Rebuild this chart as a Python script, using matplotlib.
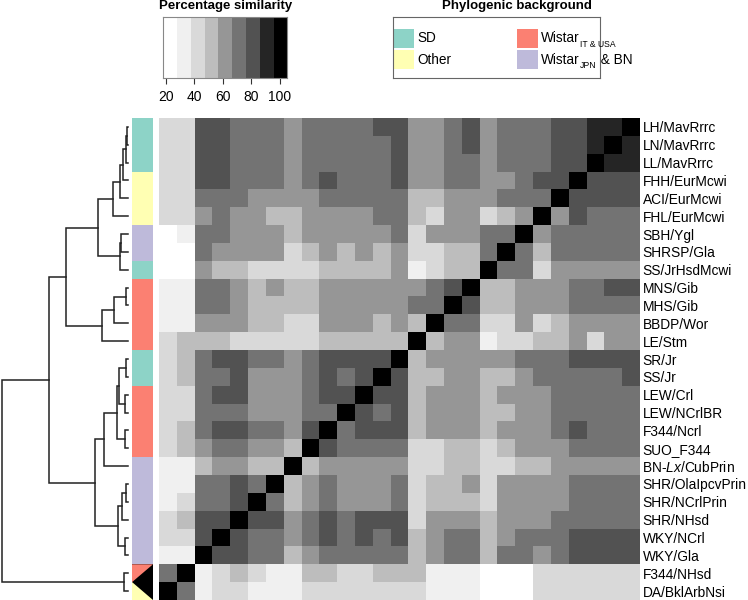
import numpy as np
import matplotlib
matplotlib.use("Agg")
import matplotlib.pyplot as plt
from matplotlib.colors import ListedColormap, BoundaryNorm
from matplotlib.patches import Rectangle, Polygon

plt.rcParams['font.family'] = ['Liberation Sans', 'DejaVu Sans']
plt.rcParams['mathtext.fontset'] = 'custom'
plt.rcParams['mathtext.rm'] = 'Liberation Sans'
plt.rcParams['mathtext.it'] = 'Liberation Sans:italic'
plt.rcParams['mathtext.bf'] = 'Liberation Sans:bold'

# strains, top to bottom (columns of the matrix run in the reverse order)
strains = ['LH/MavRrrc', 'LN/MavRrrc', 'LL/MavRrrc', 'FHH/EurMcwi', 'ACI/EurMcwi',
           'FHL/EurMcwi', 'SBH/Ygl', 'SHRSP/Gla', 'SS/JrHsdMcwi', 'MNS/Gib',
           'MHS/Gib', 'BBDP/Wor', 'LE/Stm', 'SR/Jr', 'SS/Jr', 'LEW/Crl',
           'LEW/NCrlBR', 'F344/Ncrl', 'SUO_F344', r'BN-$\mathit{Lx}$/CubPrin',
           'SHR/OlaIpcvPrin', 'SHR/NCrlPrin', 'SHR/NHsd', 'WKY/NCrl', 'WKY/Gla',
           'F344/NHsd', 'DA/BklArbNsi']

# phylogenic background of each row ("+black" = half of the cell is black)
background = ['SD', 'SD', 'SD', 'Other', 'Other', 'Other', 'WistarJPN', 'WistarJPN',
              'SD', 'WistarIT', 'WistarIT', 'WistarIT', 'WistarIT', 'SD', 'SD',
              'WistarIT', 'WistarIT', 'WistarIT', 'WistarIT', 'WistarJPN',
              'WistarJPN', 'WistarJPN', 'WistarJPN', 'WistarJPN', 'WistarJPN',
              'WistarIT+black', 'Other+black']

bg_colors = {'SD': '#8DD3C7', 'Other': '#FFFFB3', 'WistarIT': '#FB8072',
             'WistarJPN': '#BEBADA'}

# percentage similarity (row strain vs column strain, columns = reversed rows)
similarity = [
    [42, 42, 81, 81, 71, 71, 71, 61, 71, 71, 71, 71, 81, 81, 61, 61, 71, 81, 61, 71, 71, 71, 81, 81, 90, 90, 100],
    [42, 42, 81, 81, 71, 71, 71, 61, 71, 71, 71, 71, 71, 81, 61, 61, 71, 81, 61, 71, 71, 71, 81, 81, 90, 100, 90],
    [42, 42, 81, 81, 71, 71, 71, 61, 71, 71, 71, 71, 71, 81, 61, 61, 71, 71, 61, 71, 71, 71, 81, 81, 100, 90, 90],
    [42, 42, 81, 81, 71, 71, 71, 61, 71, 81, 71, 71, 71, 81, 61, 61, 71, 71, 61, 61, 71, 81, 81, 100, 81, 81, 81],
    [42, 42, 71, 71, 71, 61, 61, 61, 61, 71, 71, 71, 71, 71, 52, 52, 61, 61, 61, 71, 71, 71, 100, 81, 81, 81, 81],
    [42, 42, 61, 71, 61, 61, 52, 52, 61, 61, 61, 61, 71, 71, 52, 42, 61, 61, 42, 52, 61, 100, 61, 81, 71, 71, 71],
    [23, 33, 71, 71, 61, 61, 61, 52, 61, 61, 61, 61, 61, 71, 42, 61, 61, 61, 71, 71, 100, 61, 71, 71, 71, 71, 71],
    [23, 23, 71, 61, 61, 61, 61, 42, 52, 61, 52, 61, 52, 61, 42, 42, 52, 52, 71, 100, 71, 52, 71, 71, 71, 71, 71],
    [23, 23, 61, 52, 52, 42, 42, 42, 42, 52, 52, 52, 52, 61, 33, 42, 52, 52, 100, 71, 71, 42, 61, 61, 61, 61, 61],
    [33, 33, 71, 71, 61, 52, 61, 52, 52, 61, 61, 61, 61, 61, 61, 71, 81, 100, 52, 52, 61, 61, 61, 71, 71, 81, 81],
    [33, 33, 71, 71, 61, 52, 52, 52, 52, 61, 61, 61, 61, 61, 71, 71, 100, 81, 52, 52, 61, 61, 61, 71, 71, 71, 71],
    [33, 33, 61, 61, 61, 52, 52, 42, 42, 61, 61, 61, 52, 61, 52, 100, 71, 71, 42, 42, 61, 42, 52, 61, 61, 61, 61],
    [42, 52, 52, 52, 42, 42, 42, 42, 42, 52, 52, 52, 52, 52, 100, 52, 61, 61, 33, 42, 42, 52, 52, 61, 42, 61, 61],
    [42, 52, 71, 81, 81, 71, 71, 61, 71, 81, 81, 81, 81, 100, 52, 61, 61, 61, 61, 61, 71, 71, 71, 81, 81, 81, 81],
    [42, 52, 71, 71, 81, 61, 61, 61, 71, 81, 71, 81, 100, 81, 52, 52, 61, 61, 52, 52, 61, 71, 71, 71, 71, 71, 81],
    [42, 42, 71, 81, 81, 61, 61, 61, 71, 81, 81, 100, 81, 81, 52, 61, 61, 61, 52, 61, 61, 61, 71, 71, 71, 71, 71],
    [42, 42, 71, 71, 71, 61, 61, 61, 71, 71, 100, 81, 71, 81, 52, 61, 61, 61, 52, 52, 61, 61, 71, 71, 71, 71, 71],
    [42, 52, 71, 81, 81, 71, 71, 61, 81, 100, 71, 81, 81, 81, 52, 61, 61, 61, 52, 61, 61, 61, 71, 81, 71, 71, 71],
    [42, 52, 61, 71, 71, 61, 61, 52, 100, 81, 71, 71, 71, 71, 42, 42, 52, 52, 42, 52, 61, 61, 61, 71, 71, 71, 71],
    [33, 33, 52, 61, 61, 52, 52, 100, 52, 61, 61, 61, 61, 61, 42, 42, 52, 52, 42, 42, 52, 52, 61, 61, 61, 61, 61],
    [33, 33, 71, 71, 81, 71, 100, 52, 61, 71, 61, 61, 61, 71, 42, 52, 52, 61, 42, 61, 61, 61, 61, 71, 71, 71, 71],
    [33, 42, 71, 71, 81, 100, 71, 52, 61, 71, 61, 61, 61, 71, 42, 52, 52, 52, 42, 61, 61, 61, 61, 71, 71, 71, 71],
    [42, 52, 81, 81, 100, 81, 81, 61, 71, 81, 71, 81, 81, 81, 42, 61, 61, 61, 52, 61, 61, 61, 71, 71, 71, 71, 71],
    [42, 42, 81, 100, 81, 71, 71, 61, 71, 81, 71, 81, 71, 81, 52, 61, 71, 71, 52, 61, 71, 71, 71, 81, 81, 81, 81],
    [33, 33, 100, 81, 81, 71, 71, 52, 61, 71, 71, 71, 71, 71, 52, 61, 71, 71, 52, 71, 71, 61, 71, 81, 81, 81, 81],
    [71, 100, 33, 42, 52, 42, 33, 33, 52, 52, 42, 42, 52, 52, 52, 33, 33, 33, 23, 23, 23, 42, 42, 42, 42, 42, 42],
    [100, 71, 33, 42, 42, 33, 33, 33, 42, 42, 42, 42, 42, 42, 42, 33, 33, 33, 23, 23, 23, 42, 42, 42, 42, 42, 42],
]

# dendrogram: (height, left, right), leaves are row indices
tree = (125,
        (78,
         (62,
          (30, (15, (8, (5, (2, (1, 0, 1), 2), 3), 4), 5), (8, (7, 6, 7), 8)),
          (26, (14, (2, 9, 10), 11), 12)),
         (33,
          (24, (11, (9, (2, 13, 14), (3, 15, 16)), (3, 17, 18)), 19),
          (10, (6, (2, 20, 21), 22), (3, 23, 24)))),
        (4, 25, 26))

key_breaks = np.linspace(18.3, 105.1, 10)
key_ticks = [20, 40, 60, 80, 100]
greys = ['#FFFFFF', '#F0F0F0', '#D9D9D9', '#BDBDBD', '#969696',
         '#737373', '#525252', '#252525', '#000000']
cmap = ListedColormap(greys)
norm = BoundaryNorm(key_breaks, cmap.N)

W, H = 748, 600
fig = plt.figure(figsize=(W / 100, H / 100), dpi=100)


def px_axes(x0, y0, x1, y1):
    # axes from pixel box (top-left origin)
    return fig.add_axes([x0 / W, 1 - y1 / H, (x1 - x0) / W, (y1 - y0) / H])


n = len(strains)
top, bottom = 118, 600

# heatmap
ax = px_axes(159, top, 640, bottom)
ax.imshow(np.array(similarity), cmap=cmap, norm=norm, aspect='auto',
          interpolation='nearest')
ax.set_xlim(-0.5, n - 0.5)
ax.set_ylim(n - 0.5, -0.5)
ax.set_xticks([])
ax.yaxis.tick_right()
ax.set_yticks(range(n))
ax.set_yticklabels(strains, fontsize=9.9)
ax.tick_params(axis='y', length=0, pad=1.8)
for s in ax.spines.values():
    s.set_visible(False)

# row side colours
axc = px_axes(132, top, 153, bottom)
for i, bg in enumerate(background):
    if '+black' in bg:
        c = bg_colors[bg.split('+')[0]]
        axc.add_patch(Rectangle((0, i - 0.5), 1, 1, color='black', lw=0))
        if i == n - 2:
            tri = [(0, i - 0.5), (1, i - 0.5), (0, i + 0.5)]
        else:
            tri = [(0, i - 0.5), (0, i + 0.5), (1, i + 0.5)]
        axc.add_patch(Polygon(tri, closed=True, color=c, lw=0))
    else:
        axc.add_patch(Rectangle((0, i - 0.5), 1, 1, color=bg_colors[bg], lw=0))
axc.set_xlim(0, 1)
axc.set_ylim(n - 0.5, -0.5)
axc.axis('off')

# dendrogram
axd = px_axes(0, top, 128, bottom)


def draw_tree(node):
    if isinstance(node, int):
        return node, 0
    h, left, right = node
    y1, h1 = draw_tree(left)
    y2, h2 = draw_tree(right)
    axd.plot([h1, h, h, h2], [y1, y1, y2, y2], color='#222222', lw=1.1,
             clip_on=False, solid_joinstyle='miter')
    return (y1 + y2) / 2, h


draw_tree(tree)
axd.set_xlim(127, 0)
axd.set_ylim(n - 0.5, -0.5)
axd.axis('off')

# colour key
axk = px_axes(163.3, 17, 287.3, 77.7)
axk.pcolormesh(key_breaks, [0, 1], [(key_breaks[:-1] + key_breaks[1:]) / 2],
               cmap=cmap, norm=norm)
axk.set_xlim(key_breaks[0], key_breaks[-1])
axk.set_ylim(0, 1)
axk.set_yticks([])
axk.set_xticks(key_ticks)
axk.tick_params(axis='x', length=4, width=0.8, labelsize=10, pad=4.5,
                color='#333333')
for s in axk.spines.values():
    s.set_color('#888888')
    s.set_linewidth(0.8)
fig.text(226 / W, 1 - 5.5 / H, 'Percentage similarity', ha='center',
         va='center', fontsize=9.5, fontweight='bold')

# phylogenic background legend
axl = px_axes(393, 17, 600, 77.7)
axl.set_xlim(0, 207)
axl.set_ylim(60.7, 0)
axl.set_xticks([])
axl.set_yticks([])
for s in axl.spines.values():
    s.set_color('#666666')
    s.set_linewidth(0.8)
# (key, label, subscript, text after subscript, x, y)
legend_items = [('SD', 'SD', '', '', 0, 12),
                ('Other', 'Other', '', '', 0, 33),
                ('WistarIT', 'Wistar', 'IT & USA', '', 124, 12),
                ('WistarJPN', 'Wistar', 'JPN', ' & BN', 124, 33)]
renderer = fig.canvas.get_renderer()
for key, label, sub, after, lx, ly in legend_items:
    axl.add_patch(Rectangle((lx, ly), 21, 19, color=bg_colors[key], lw=0))
    t = axl.text(lx + 24, ly + 9.5, label, ha='left', va='center', fontsize=9.8)
    if sub:
        bb = t.get_window_extent(renderer)
        x_end = bb.x1 + 0.5
        s = fig.text(x_end / W, (bb.y0 - 1.5) / H, sub, ha='left',
                     va='baseline', fontsize=6.2)
        if after:
            bb2 = s.get_window_extent(renderer)
            fig.text(bb2.x1 / W, (bb.y0 + bb.y1) / 2 / H, after, ha='left',
                     va='center', fontsize=9.8)
fig.text(517 / W, 1 - 5.5 / H, 'Phylogenic background', ha='center',
         va='center', fontsize=9.5, fontweight='bold')

fig.savefig('out.png', dpi=100)
